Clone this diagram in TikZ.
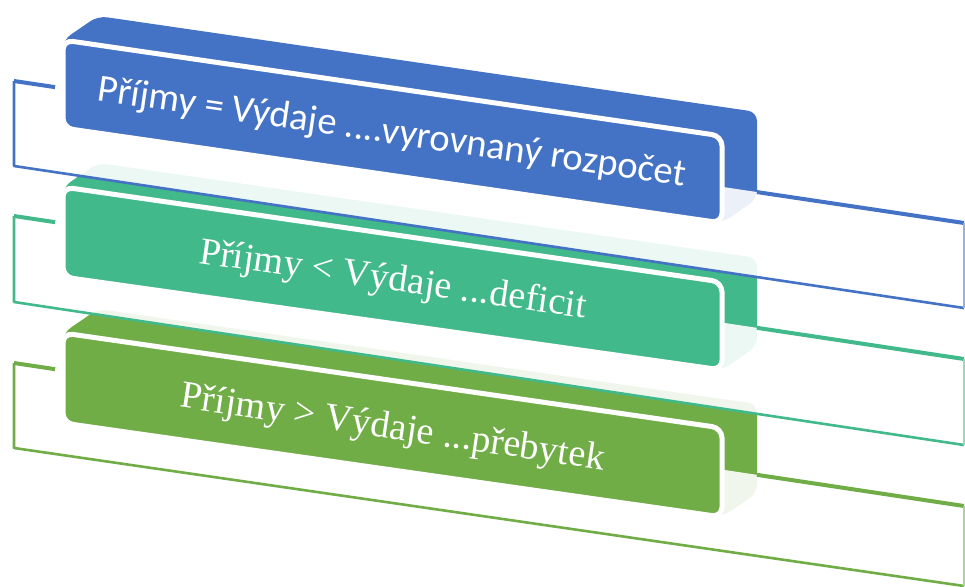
\documentclass[tikz,border=0pt]{standalone}
\usepackage{fontspec}
\newfontfamily\calibfont{Carlito}
\newfontfamily\timesfont{Liberation Serif}
\usetikzlibrary{calc}
\definecolor{bandblue}{HTML}{4472C4}
\definecolor{bandteal}{HTML}{42B98B}
\definecolor{bandolive}{HTML}{70AD47}
\tikzset{
  slab/.style={fill=#1, draw=none, rounded corners=9},
  frameglass/.style={fill=white, fill opacity=0.9, draw=none},
  frametop/.style={draw=#1, line width=4, line cap=butt},
  frameedge/.style={draw=#1, line width=2.6, line join=round},
  frameright/.style={draw=#1!55, line width=1.2},
  face/.style={fill=#1, draw=white, line width=5, rounded corners=10},
  bandtext/.style={text=white, inner sep=0, anchor=base},
}
% #1 colour, #2-#5 face TL TR BR BL (y), #6-#9 frame TL TR BR BL (y)
\newcommand\drawband[9]{%
  \coordinate (fTL) at (63,#2);
  \coordinate (fTR) at (722,#3);
  \coordinate (fBR) at (722,#4);
  \coordinate (fBL) at (63,#5);
  \coordinate (sTL) at ($(fTL)+(35,-24)$);
  \coordinate (sTR) at ($(fTR)+(35,-24)$);
  \coordinate (sBR) at ($(fBR)+(35,-24)$);
  \coordinate (rTL) at (14,#6);
  \coordinate (rTR) at (964,#7);
  \coordinate (rBR) at (964,#8);
  \coordinate (rBL) at (14,#9);
  \fill[slab=#1] (fBL) -- (fTL) -- (sTL) -- (sTR) -- (sBR) -- (fBR) -- cycle;
  \fill[frameglass] (rTL) -- (rTR) -- (rBR) -- (rBL) -- cycle;
  \draw[frametop=#1] (rTL) -- ($(rTL)!0.0432!(rTR)$);
  \draw[frametop=#1] ($(rTL)!0.782!(rTR)$) -- (rTR);
  \draw[frameedge=#1] (rTL) -- (rBL) -- (rBR);
  \draw[frameright=#1] (rBR) -- (rTR);
  \draw[face=#1] (fTL) -- (fTR) -- (fBR) -- (fBL) -- cycle;
}
\begin{document}
\begin{tikzpicture}[x=1pt,y=-1pt]
\useasboundingbox (0,0) rectangle (965,586);
% bottom band
\drawband{bandolive}{333}{428}{517}{423}{363}{506}{586}{448}
\node[bandtext, rotate=-8.47, font=\timesfont\fontsize{38.3}{44}\selectfont] (t3) at (391.5,438.5) {Příjmy > Výdaje ...přebytek};
% middle band
\drawband{bandteal}{187}{282}{370}{277}{216}{359}{445}{302}
\node[bandtext, rotate=-8.09, font=\timesfont\fontsize{38.2}{44}\selectfont] (t2) at (391.5,290.5) {Příjmy < Výdaje ...deficit};
% top band
\drawband{bandblue}{40}{136}{223}{128}{81}{223}{308}{166}
\node[bandtext, rotate=-8.32, font=\calibfont\fontsize{38.6}{44}\selectfont] (t1) at (390.5,143.5) {Příjmy = Výdaje ....vyrovnaný rozpočet};
\end{tikzpicture}
\end{document}
